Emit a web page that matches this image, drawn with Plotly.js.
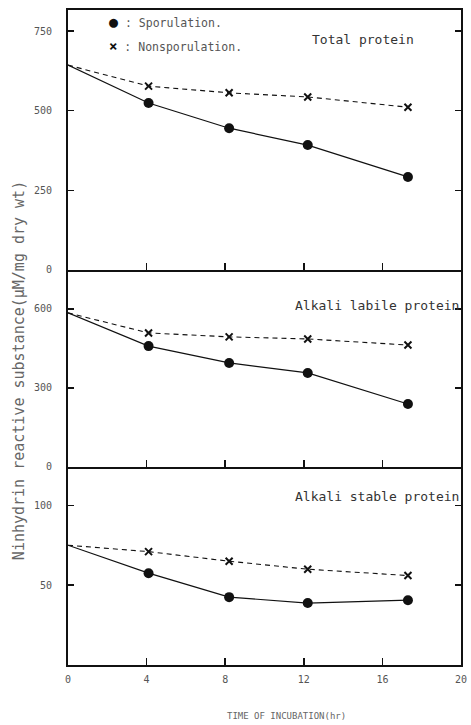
<!DOCTYPE html>
<html>
<head>
<meta charset="utf-8">
<script src="https://cdn.plot.ly/plotly-3.0.1.min.js"></script>
<style>html,body{margin:0;padding:0;background:#fff;}#chart{width:471px;height:725px;}</style>
</head>
<body>
<div id="chart"></div>
<script>
// Time of incubation (hr)
const timeHr = [0, 4.1, 8.2, 12.2, 17.3];

// Total protein
const totalSpor = [643, 524, 445, 392, 292];
const totalNonspor = [643, 577, 556, 543, 511];

// Alkali labile protein
const labileSpor = [585, 459, 395, 357, 239];
const labileNonspor = [585, 509, 494, 486, 463];

// Alkali stable protein
const stableSpor = [75, 57.5, 42.5, 38.8, 40.6];
const stableNonspor = [75, 71, 65, 60, 56];

const xTicks = [0, 4, 8, 12, 16, 20];
const totalTicks = [0, 250, 500, 750];
const labileTicks = [0, 300, 600];
const stableTicks = [50, 100];

const panelNames = ["Total protein", "Alkali labile protein", "Alkali stable protein"];
const seriesNames = ["Sporulation.", "Nonsporulation."];

const ink = "#111";
const mono = "DejaVu Sans Mono, Liberation Mono, monospace";

// no marker on the starting point (t = 0)
function sizes(s) { return timeHr.map((t, i) => i === 0 ? 0 : s); }

function spor(y, xa, ya) {
  return {x: timeHr, y: y, xaxis: xa, yaxis: ya, mode: "lines+markers", name: seriesNames[0],
    line: {color: ink, width: 1.2}, marker: {symbol: "circle", size: sizes(10), color: ink, opacity: 1, line: {width: 0}}, showlegend: false};
}
function nonspor(y, xa, ya) {
  return {x: timeHr, y: y, xaxis: xa, yaxis: ya, mode: "lines+markers", name: seriesNames[1],
    line: {color: ink, width: 1.1, dash: "5px,4px"}, marker: {symbol: "x-thin", size: sizes(7), color: ink, opacity: 1, line: {width: 2, color: ink}}, showlegend: false};
}

const data = [
  nonspor(totalNonspor, "x3", "y3"), spor(totalSpor, "x3", "y3"),
  nonspor(labileNonspor, "x2", "y2"), spor(labileSpor, "x2", "y2"),
  nonspor(stableNonspor, "x", "y"), spor(stableSpor, "x", "y")
];

const tickFont = {family: mono, size: 10, color: "#555"};

function xax(anchor, labels, mirror) {
  return {anchor: anchor, range: [0, 20], tickvals: xTicks, ticktext: xTicks.map(String),
    showticklabels: labels, ticks: "inside", ticklen: 7, tickwidth: 1.5, tickcolor: ink,
    showline: true, linecolor: ink, linewidth: 2, mirror: mirror, showgrid: false, zeroline: false,
    tickfont: tickFont, ticklabelstandoff: 4};
}
function yax(domain, range, ticks) {
  return {domain: domain, range: range, tickvals: ticks, ticktext: ticks.map(String),
    ticks: "inside", ticklen: 6, tickwidth: 1.5, tickcolor: ink, showline: true, linecolor: ink,
    linewidth: 2, mirror: "ticks", showgrid: false, zeroline: false, tickfont: tickFont,
    ticklabelstandoff: 12};
}

const layout = {
  width: 471, height: 725,
  margin: {l: 68, r: 10, t: 10, b: 60},
  paper_bgcolor: "#fff", plot_bgcolor: "#fff",
  showlegend: false,
  xaxis: xax("y", true, false),
  xaxis2: xax("y2", false, false),
  xaxis3: xax("y3", false, true),
  yaxis: yax([0, 0.3023], [0, 124], stableTicks),
  yaxis2: yax([0.3023, 0.6031], [0, 748], labileTicks),
  yaxis3: yax([0.6031, 1], [0, 816], totalTicks),
  annotations: [
    {xref: "x3 domain", yref: "y3 domain", x: 0.885, y: 0.885, text: panelNames[0], showarrow: false, xanchor: "right", yanchor: "middle", font: {family: mono, size: 13, color: "#333"}},
    {xref: "x2 domain", yref: "y2 domain", x: 1.0, y: 0.82, text: panelNames[1], showarrow: false, xanchor: "right", yanchor: "middle", font: {family: mono, size: 13, color: "#333"}},
    {xref: "x domain", yref: "y domain", x: 1.0, y: 0.85, text: panelNames[2], showarrow: false, xanchor: "right", yanchor: "middle", font: {family: mono, size: 13, color: "#333"}},
    {xref: "x3 domain", yref: "y3 domain", x: 0.098, y: 0.953, text: "<span style='font-size:15px;color:#111'>●</span> : " + seriesNames[0], showarrow: false, xanchor: "left", yanchor: "middle", font: {family: mono, size: 11.5, color: "#555"}},
    {xref: "x3 domain", yref: "y3 domain", x: 0.098, y: 0.862, text: "<b style='font-size:14px;color:#111'>×</b> : " + seriesNames[1], showarrow: false, xanchor: "left", yanchor: "middle", font: {family: mono, size: 11.5, color: "#555"}},
    {xref: "paper", yref: "paper", x: -0.125, y: 0.45, text: "Ninhydrin reactive substance(μM/mg dry wt)", textangle: -90, showarrow: false, xanchor: "center", yanchor: "middle", font: {family: mono, size: 15, color: "#666"}},
    {xref: "paper", yref: "paper", x: 0.557, y: -0.078, text: "TIME OF INCUBATION(hr)", showarrow: false, xanchor: "center", yanchor: "middle", font: {family: mono, size: 9, color: "#666"}}
  ]
};

Plotly.newPlot("chart", data, layout, {displayModeBar: false, staticPlot: true});
</script>
</body>
</html>
